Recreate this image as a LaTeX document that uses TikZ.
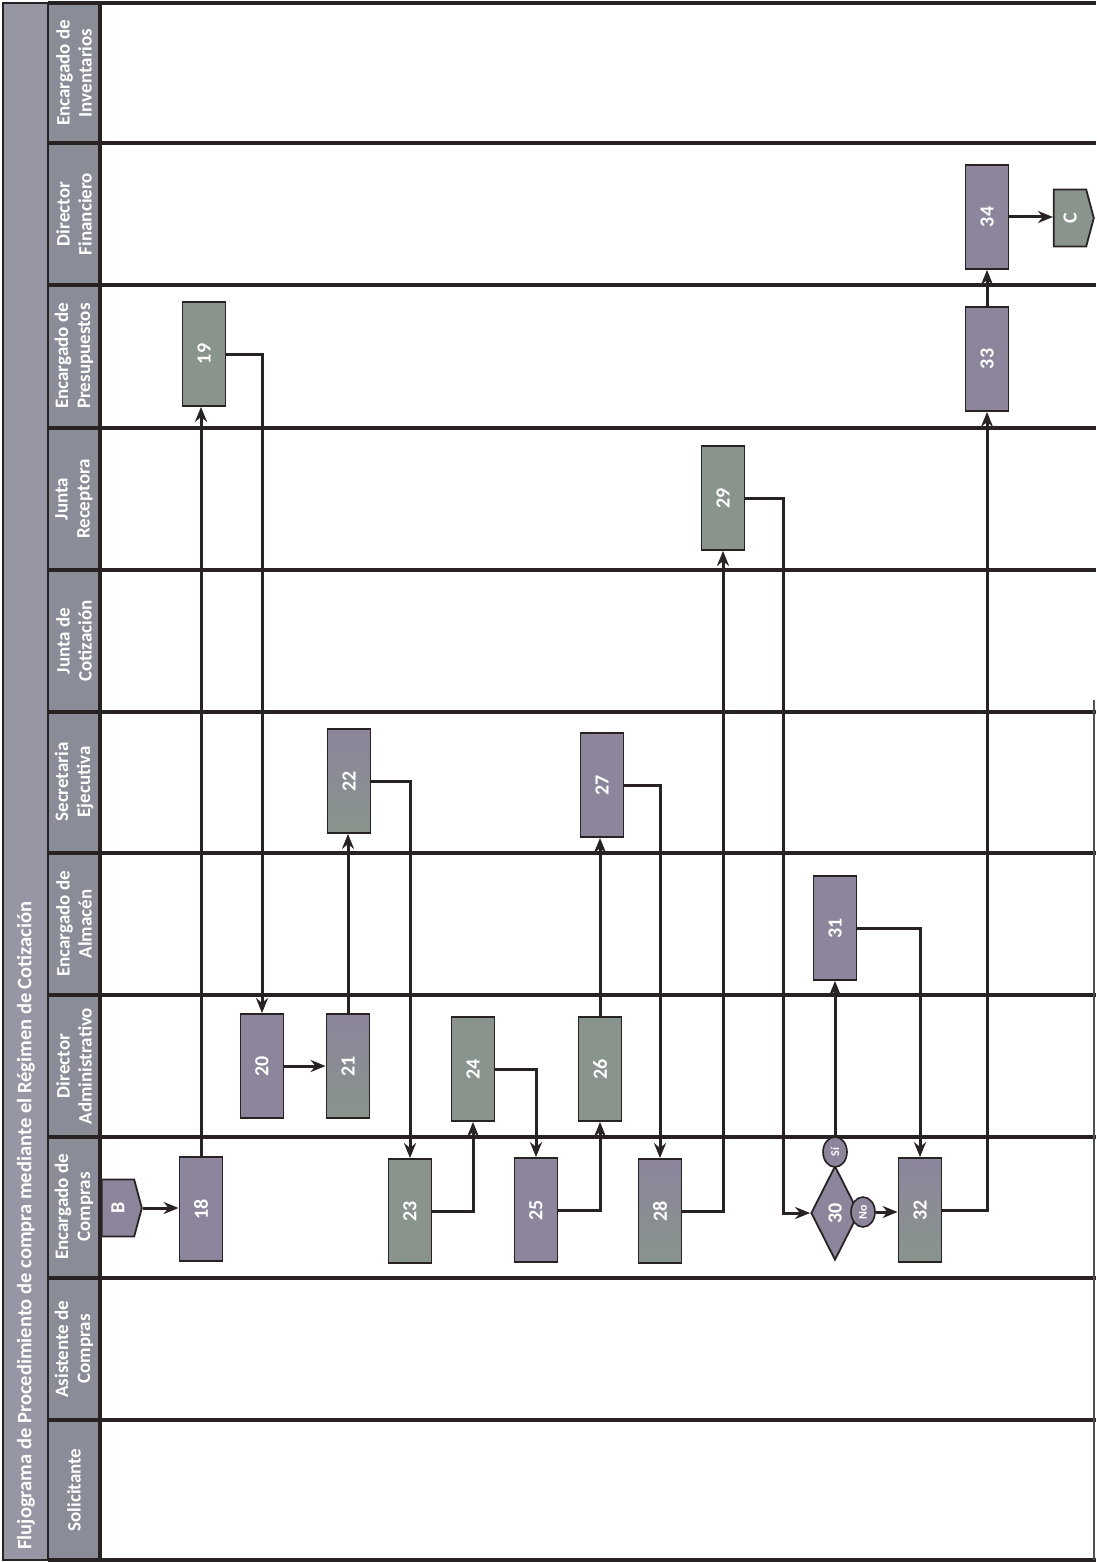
\documentclass[tikz,border=0pt]{standalone}
\usepackage{fontspec}
\setmainfont{Carlito}
\usetikzlibrary{arrows.meta,shapes.geometric,shapes.symbols}
\definecolor{titlecol}{RGB}{150,150,164}
\definecolor{cellcol}{RGB}{138,140,152}
\definecolor{boxpur}{RGB}{140,133,156}
\definecolor{boxgrn}{RGB}{136,148,140}
\definecolor{linecol}{RGB}{40,34,34}
\begin{document}
\begin{tikzpicture}[x=1pt,y=-1pt,
  laneline/.style={line width=3.2pt, draw=linecol},
  cell/.style={draw=linecol, line width=2pt, fill=cellcol},
  lanelabel/.style={rotate=90, text=white, align=center, font=\fontsize{19}{22}\selectfont\bfseries},
  boxbase/.style={draw=linecol, line width=1.8pt, minimum width=43pt, minimum height=104pt, inner sep=0pt, text=white, font=\fontsize{20}{22}\selectfont\bfseries},
  procA/.style={boxbase, top color=boxpur, bottom color=boxgrn},
  procB/.style={boxbase, fill=boxgrn},
  procC/.style={boxbase, fill=boxpur},
  offpage/.style={signal, signal to=east, signal pointer angle=150, draw=linecol, line width=1.8pt, minimum width=40pt, minimum height=57pt, inner sep=0pt, fill=boxpur, text=white, font=\fontsize{20}{22}\selectfont\bfseries},
  decision/.style={diamond, draw=linecol, line width=1.8pt, minimum width=48pt, minimum height=94pt, inner sep=0pt, fill=boxpur, text=white, font=\fontsize{20}{22}\selectfont\bfseries},
  answer/.style={ellipse, draw=linecol, line width=1.6pt, minimum width=24pt, minimum height=30pt, inner sep=0pt, fill=boxpur, text=white, font=\fontsize{12}{13}\selectfont\bfseries},
  arr/.style={line width=3pt, draw=linecol, -{Stealth[length=15pt,width=12pt]}},
  plain/.style={line width=3pt, draw=linecol}
]
\useasboundingbox (0,0) rectangle (1096,1562);
\fill[white] (0,0) rectangle (1096,1562);

% title strip
\fill[titlecol] (3,3) rectangle (48,1560);
\draw[line width=2pt, draw=linecol] (3,3) rectangle (48,1560);
\node[rotate=90, anchor=west, text=white, font=\fontsize{20.5}{24}\selectfont\bfseries] (title) at (26,1553) {Flujograma de Procedimiento de compra mediante el Régimen de Cotización};

% lane label cells
\foreach \ya/\yb in {3/143,143/285,285/428,428/570,570/712,712/853,853/995,995/1137,1137/1278,1278/1420,1420/1560}{
  \draw[cell] (48,\ya) rectangle (100,\yb);
}
\node[lanelabel] (l1) at (74,73) {Encargado de\\Inventarios};
\node[lanelabel] (l2) at (74,214) {Director\\Financiero};
\node[lanelabel] (l3) at (74,356) {Encargado de\\Presupuestos};
\node[lanelabel] (l4) at (74,499) {Junta\\Receptora};
\node[lanelabel] (l5) at (74,641) {Junta de\\Cotización};
\node[lanelabel] (l6) at (74,782) {Secretaria\\Ejecutiva};
\node[lanelabel] (l7) at (74,924) {Encargado de\\Almacén};
\node[lanelabel] (l8) at (74,1066) {Director\\Administrativo};
\node[lanelabel] (l9) at (74,1207) {Encargado de\\Compras};
\node[lanelabel] (l10) at (74,1349) {Asistente de\\Compras};
\node[lanelabel] (l11) at (74,1490) {Solicitante};

% lane lines
\foreach \y in {3,143,285,428,570,712,853,995,1137,1278,1420,1560}{
  \draw[laneline] (48,\y) -- (1096,\y);
}
\draw[laneline] (100,3) -- (100,1560);
\draw[line width=2pt, draw=linecol!80] (1094,700) -- (1094,1560);

% nodes
\node[offpage] (B) at (118,1208) {\rotatebox{90}{B}};
\node[procC] (n18) at (201,1209) {\rotatebox{90}{18}};
\node[procB] (n19) at (204,354) {\rotatebox{90}{19}};
\node[procC] (n20) at (262,1066) {\rotatebox{90}{20}};
\node[procA] (n21) at (348,1066) {\rotatebox{90}{21}};
\node[procA] (n22) at (349,781) {\rotatebox{90}{22}};
\node[procB] (n23) at (410,1211) {\rotatebox{90}{23}};
\node[procB] (n24) at (473,1069) {\rotatebox{90}{24}};
\node[procC] (n25) at (536,1210) {\rotatebox{90}{25}};
\node[procB] (n26) at (600,1069) {\rotatebox{90}{26}};
\node[procC] (n27) at (602,785) {\rotatebox{90}{27}};
\node[procA] (n28) at (660,1211) {\rotatebox{90}{28}};
\node[procB] (n29) at (723,498) {\rotatebox{90}{29}};
\node[decision] (n30) at (835,1213) {\rotatebox{90}{30}};
\node[answer] (si) at (835,1152) {\rotatebox{90}{Sí}};
\node[answer] (no) at (863,1212) {\rotatebox{90}{No}};
\node[procC] (n31) at (835,928) {\rotatebox{90}{31}};
\node[procA] (n32) at (920,1210) {\rotatebox{90}{32}};
\node[procC] (n33) at (987,359) {\rotatebox{90}{33}};
\node[procC] (n34) at (987,217) {\rotatebox{90}{34}};
\node[offpage, fill=boxgrn] (C) at (1070,218) {\rotatebox{90}{C}};
\coordinate (k1) at (783,0);

% connectors
\draw[arr] (B.east) -- (B.east -| n18.west);
\draw[arr] (n18.north) -- (n18.north |- n19.south);
\draw[arr] (n19.east) -| (n20.north);
\draw[arr] (n20.east) -- (n21.west);
\draw[arr] (n21.north) -- (n21.north |- n22.south);
\draw[arr] (n22.east) -| (n23.north);
\draw[arr] (n23.east) -| (n24.south);
\draw[arr] (n24.east) -| (n25.north);
\draw[arr] (n25.east) -| (n26.south);
\draw[arr] (n26.north) -- (n26.north |- n27.south);
\draw[arr] (n27.east) -| (n28.north);
\draw[arr] (n28.east) -| (n29.south);
\draw[arr] (n29.east) -- (n29.east -| k1) -- (k1 |- n30.west) -- (n30.west);
\draw[arr] (si.north) -- (n31.south);
\draw[arr] (no.east) -- (no.east -| n32.west);
\draw[arr] (n31.east) -| (n32.north);
\draw[arr] (n32.east) -| (n33.south);
\draw[arr] (n33.north) -- (n34.south);
\draw[arr] (n34.east) -- (n34.east -| C.west);
\end{tikzpicture}
\end{document}
